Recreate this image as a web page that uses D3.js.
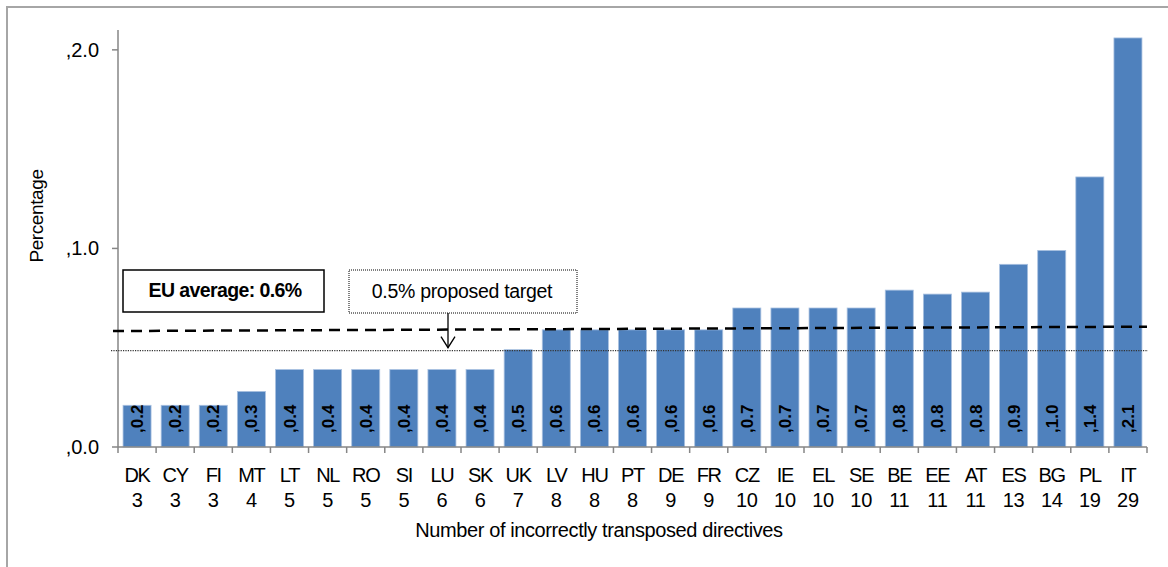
<!DOCTYPE html>
<html>
<head>
<meta charset="utf-8">
<script src="https://cdn.jsdelivr.net/npm/d3@7"></script>
<style>
  body { margin: 0; background: #fff; }
  svg text { font-family: "Liberation Sans", Arial, sans-serif; fill: #000; }
</style>
</head>
<body>
<div id="drawingfield"></div>
<script>
// member states, ordered as in the chart
var countries = ["DK","CY","FI","MT","LT","NL","RO","SI","LU","SK","UK","LV","HU","PT","DE","FR","CZ","IE","EL","SE","BE","EE","AT","ES","BG","PL","IT"];
// number of incorrectly transposed directives
var directives = [3,3,3,4,5,5,5,5,6,6,7,8,8,8,9,9,10,10,10,10,11,11,11,13,14,19,29];
// percentage (bar heights)
var percentages = [0.21,0.21,0.21,0.28,0.39,0.39,0.39,0.39,0.39,0.39,0.49,0.59,0.59,0.59,0.59,0.59,0.70,0.70,0.70,0.70,0.79,0.77,0.78,0.92,0.99,1.36,2.06];
// y tick values and labels
var yTicks = [0, 1, 2];
var yTickLabels = [",0.0", ",1.0", ",2.0"];
// EU average line (left end, right end) and proposed target
var avgLine = [0.584, 0.606];
var target = 0.485;
var targetArrow = 0.5;

var width = 1168, height = 567;

var svg = d3.select("#drawingfield")
  .append("svg")
  .attr("width", width)
  .attr("height", height);

// chart frame (top and left edges)
svg.append("path")
  .attr("d", "M7," + height + "V7H" + width)
  .attr("fill", "none")
  .attr("stroke", "#a6a6a6")
  .attr("stroke-width", 2);

var x = d3.scaleBand()
  .domain(countries)
  .range([118, 1147])
  .paddingInner(0.265)
  .paddingOuter(0.1325);

var y = d3.scaleLinear()
  .domain([0, 2.1])
  .range([447, 30]);

var axisColor = "#868686";

// bars
svg.selectAll(".bar")
  .data(countries)
  .enter()
  .append("rect")
  .attr("class", "bar")
  .attr("x", function(d){ return x(d); })
  .attr("width", x.bandwidth())
  .attr("y", function(d, i){ return y(percentages[i]); })
  .attr("height", function(d, i){ return y(0) - y(percentages[i]); })
  .attr("fill", "#4f81bd")
  .attr("stroke", "#a9c1e0")
  .attr("stroke-width", 0.8);

// value labels inside bars, rotated
var fmt = d3.format(".1f");
svg.selectAll(".val")
  .data(countries)
  .enter()
  .append("text")
  .attr("class", "val")
  .attr("transform", function(d){
    return "translate(" + (x(d) + x.bandwidth() / 2 + 6) + "," + (y(0) - 14) + ") rotate(-90)";
  })
  .attr("font-size", "17px")
  .attr("font-weight", "bold")
  .attr("text-anchor", "start")
  .text(function(d, i){ return "," + fmt(percentages[i]); });

// y axis
svg.append("line")
  .attr("x1", x.range()[0]).attr("x2", x.range()[0])
  .attr("y1", y.range()[1]).attr("y2", y(0))
  .attr("stroke", axisColor).attr("stroke-width", 1.5);

svg.selectAll(".ytick")
  .data(yTicks)
  .enter()
  .append("line")
  .attr("x1", x.range()[0] - 6).attr("x2", x.range()[0])
  .attr("y1", function(d){ return y(d); })
  .attr("y2", function(d){ return y(d); })
  .attr("stroke", axisColor).attr("stroke-width", 1.5);

svg.selectAll(".ylab")
  .data(yTicks)
  .enter()
  .append("text")
  .attr("x", 99)
  .attr("y", function(d){ return y(d) + 7; })
  .attr("text-anchor", "end")
  .attr("font-size", "20px")
  .text(function(d, i){ return yTickLabels[i]; });

// x axis
svg.append("line")
  .attr("x1", x.range()[0]).attr("x2", x.range()[1])
  .attr("y1", y(0)).attr("y2", y(0))
  .attr("stroke", axisColor).attr("stroke-width", 1.5);

var step = x.step();
svg.selectAll(".xtick")
  .data(d3.range(countries.length + 1))
  .enter()
  .append("line")
  .attr("x1", function(i){ return x.range()[0] + i * step; })
  .attr("x2", function(i){ return x.range()[0] + i * step; })
  .attr("y1", y(0)).attr("y2", y(0) + 6)
  .attr("stroke", axisColor).attr("stroke-width", 1.5);

// category labels: country + count
var cat = svg.selectAll(".cat")
  .data(countries)
  .enter()
  .append("text")
  .attr("class", "cat")
  .attr("text-anchor", "middle")
  .attr("font-size", "20px")
  .attr("letter-spacing", "-1.3px");

cat.append("tspan")
  .attr("x", function(d){ return x(d) + x.bandwidth() / 2; })
  .attr("y", 482)
  .text(function(d){ return d; });

cat.append("tspan")
  .attr("x", function(d){ return x(d) + x.bandwidth() / 2; })
  .attr("y", 507)
  .attr("letter-spacing", "-0.3px")
  .text(function(d, i){ return directives[i]; });

// axis titles
svg.append("text")
  .attr("x", 599)
  .attr("y", 537)
  .attr("text-anchor", "middle")
  .attr("font-size", "20px")
  .attr("letter-spacing", "-0.4px")
  .text("Number of incorrectly transposed directives");

svg.append("text")
  .attr("transform", "translate(43,216) rotate(-90)")
  .attr("text-anchor", "middle")
  .attr("font-size", "19px")
  .attr("letter-spacing", "-0.4px")
  .text("Percentage");

// target line (dotted)
svg.append("line")
  .attr("x1", x.range()[0] - 7).attr("x2", x.range()[1] + 1)
  .attr("y1", y(target)).attr("y2", y(target))
  .attr("stroke", "#333").attr("stroke-width", 1.2)
  .attr("stroke-dasharray", "1.2,1.2");

// EU average line (dashed)
var avgLineGen = d3.line()
  .x(function(d, i){ return i === 0 ? x.range()[0] - 5 : x.range()[1]; })
  .y(function(d){ return y(d); });

svg.append("path")
  .attr("d", avgLineGen(avgLine))
  .attr("fill", "none")
  .attr("stroke", "#000")
  .attr("stroke-width", 2.5)
  .attr("stroke-dasharray", "11,7");

// EU average box
svg.append("rect")
  .attr("x", 123).attr("y", 270)
  .attr("width", 201).attr("height", 42)
  .attr("fill", "#fff")
  .attr("stroke", "#000")
  .attr("stroke-width", 1.5);

svg.append("text")
  .attr("x", 225).attr("y", 297)
  .attr("text-anchor", "middle")
  .attr("font-size", "19.5px")
  .attr("font-weight", "bold")
  .attr("letter-spacing", "-0.6px")
  .text("EU average: 0.6%");

// target box (dotted border)
svg.append("rect")
  .attr("x", 349).attr("y", 270)
  .attr("width", 228).attr("height", 43)
  .attr("fill", "#fff")
  .attr("stroke", "#000")
  .attr("stroke-width", 1)
  .attr("stroke-dasharray", "1,1");

svg.append("text")
  .attr("x", 462).attr("y", 298)
  .attr("text-anchor", "middle")
  .attr("font-size", "19.5px")
  .attr("letter-spacing", "-0.3px")
  .text("0.5% proposed target");

// arrow from target box to target line
var ax = 448, tipY = y(targetArrow);
svg.append("line")
  .attr("x1", ax).attr("x2", ax)
  .attr("y1", 313).attr("y2", tipY)
  .attr("stroke", "#000").attr("stroke-width", 1.3);
svg.append("path")
  .attr("d", "M" + (ax - 7) + "," + (tipY - 11) + "L" + ax + "," + tipY + "L" + (ax + 7) + "," + (tipY - 11))
  .attr("fill", "none")
  .attr("stroke", "#000").attr("stroke-width", 1.3);
</script>
</body>
</html>
